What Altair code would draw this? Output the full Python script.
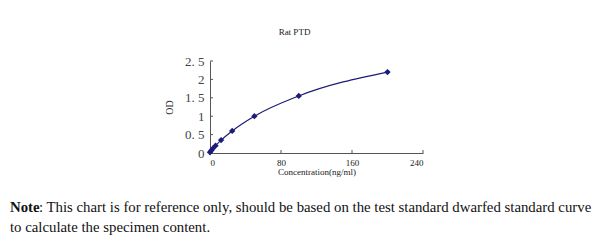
import altair as alt
import pandas as pd

conc = [0, 1.56, 3.12, 6.25, 12.5, 25, 50, 100, 200]
od = [0.02, 0.07, 0.12, 0.2, 0.35, 0.6, 1.0, 1.55, 2.2]
x_ticks = [0, 80, 160, 240]
y_ticks = [0, 0.5, 1, 1.5, 2, 2.5]
title_text = "Rat PTD"
x_title = "Concentration(ng/ml)"
y_title = "OD"
note_bold = ["Note"]
note_rest = [": This chart is for reference only, should be based on the test standard dwarfed standard curve"]
note_line2 = ["to calculate the specimen content."]

df = pd.DataFrame({"conc": conc, "od": od})
SERIF = "Liberation Serif"
NAVY = "#1c1c78"
AX = "#555"

xs = alt.Scale(domain=[0, 240], nice=False)
ys = alt.Scale(domain=[0, 2.5], nice=False)
x = alt.X("conc:Q", scale=xs,
          axis=alt.Axis(values=x_ticks, title=x_title, grid=False, ticks=False,
                        labelFont=SERIF, labelFontSize=9, labelColor="#222",
                        labelOverlap=False, format="d",
                        titleFont=SERIF, titleFontSize=9, titleFontWeight="normal",
                        titleColor="#222", titlePadding=0, labelPadding=5,
                        domainColor=AX))
y = alt.Y("od:Q", scale=ys,
          axis=alt.Axis(values=y_ticks, title=y_title, grid=False, ticks=False,
                        labelFont=SERIF, labelFontSize=13, labelColor="#444",
                        labelOverlap=False, labelFlush=False, format="~g",
                        labelExpr="replace(format(datum.value, '~g'), '.', '. ')",
                        titleFont=SERIF, titleFontSize=10, titleFontWeight="normal",
                        titleColor="#333", titlePadding=10, labelPadding=6,
                        domainColor=AX))

line = alt.Chart(df).mark_line(color=NAVY, strokeWidth=1.2, interpolate="monotone").encode(x=x, y=y)
pts = alt.Chart(df).mark_point(shape="diamond", filled=True, color=NAVY, size=40, opacity=1).encode(x=x, y=y)

xt = alt.Chart(pd.DataFrame({"conc": x_ticks[1:]})).mark_rule(color=AX, strokeWidth=1).encode(
    x=x, y=alt.value(92), y2=alt.value(89))
yt = alt.Chart(pd.DataFrame({"od": y_ticks[1:]})).mark_rule(color=AX, strokeWidth=1).encode(
    y=y, x=alt.value(0), x2=alt.value(3))

def txt(lines, xv, yv, bold=False):
    return alt.Chart(pd.DataFrame({"t": lines})).mark_text(
        font=SERIF, fontSize=14.8, fontWeight="bold" if bold else "normal",
        align="left", baseline="middle", color="#111"
    ).encode(text="t:N", x=alt.value(xv), y=alt.value(yv))

n1 = txt(note_bold, 10 - 210, 208 - 61, bold=True)
n2 = txt(note_rest, 39 - 210, 208 - 61)
n3 = txt(note_line2, 10 - 210, 228 - 61)

chart = alt.layer(line, pts, xt, yt, n1, n2, n3).properties(
    width=213, height=92,
    title=alt.TitleParams(title_text, font=SERIF, fontSize=9, fontWeight="normal",
                          color="#222", dx=-22, offset=18),
    autosize=alt.AutoSizeParams(type="none"),
    padding={"left": 210, "top": 61, "right": 177, "bottom": 95},
).configure(background="white", view=alt.ViewConfig(stroke=None))

chart.save("out.html", embed_options={"renderer": "svg", "actions": False})
